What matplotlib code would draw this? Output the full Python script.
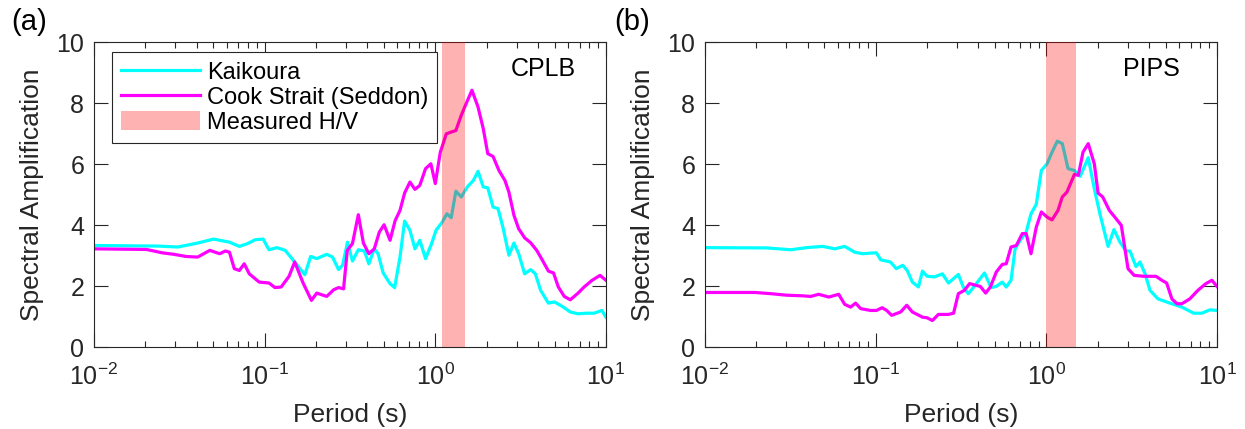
import matplotlib
matplotlib.use("Agg")
import matplotlib.pyplot as plt
from matplotlib.lines import Line2D
from matplotlib.patches import Patch

plt.rcParams["font.family"] = ["Liberation Sans", "DejaVu Sans"]
plt.rcParams["mathtext.default"] = "regular"

# --- CPLB ---------------------------------------------------------------
a_kai_T = [0.0100, 0.0238, 0.0310, 0.0405, 0.0502, 0.0622, 0.0711, 0.0792, 0.0881, 0.0980,
           0.106, 0.118, 0.132, 0.150, 0.172, 0.186, 0.202, 0.231, 0.250, 0.271,
           0.286, 0.306, 0.327, 0.354, 0.384, 0.408, 0.439, 0.462, 0.495, 0.543,
           0.578, 0.621, 0.661, 0.710, 0.760, 0.811, 0.877, 0.951, 1.01, 1.09,
           1.17, 1.24, 1.32, 1.42, 1.54, 1.67, 1.78, 1.91, 2.03, 2.18,
           2.33, 2.49, 2.70, 2.89, 3.08, 3.34, 3.62, 3.86, 4.14, 4.60,
           4.99, 5.56, 6.18, 6.87, 7.66, 8.51, 9.48, 10.0]
a_kai_A = [3.33, 3.31, 3.28, 3.41, 3.54, 3.44, 3.30, 3.39, 3.52, 3.54,
           3.19, 3.26, 3.17, 2.79, 2.37, 2.97, 2.90, 3.04, 2.95, 2.54,
           2.68, 3.44, 2.82, 3.19, 3.15, 2.73, 3.22, 3.06, 2.43, 2.08,
           1.95, 2.95, 4.13, 3.83, 3.22, 3.50, 2.90, 3.39, 3.83, 4.07,
           4.37, 4.24, 5.11, 4.92, 5.25, 5.46, 5.76, 5.25, 5.22, 4.59,
           4.54, 3.93, 3.01, 3.41, 3.06, 2.40, 2.54, 2.40, 1.86, 1.44,
           1.48, 1.33, 1.15, 1.09, 1.11, 1.11, 1.20, 0.98]

a_cook_T = [0.0100, 0.0203, 0.0251, 0.0294, 0.0346, 0.0405, 0.0477, 0.0545, 0.0590, 0.0622,
            0.0664, 0.0711, 0.0759, 0.0813, 0.0929, 0.106, 0.115, 0.125, 0.139, 0.150,
            0.168, 0.188, 0.202, 0.231, 0.254, 0.271, 0.290, 0.305, 0.327, 0.354,
            0.379, 0.408, 0.439, 0.470, 0.501, 0.543, 0.582, 0.621, 0.661, 0.710,
            0.760, 0.811, 0.877, 0.942, 1.00, 1.07, 1.16, 1.24, 1.32, 1.42,
            1.54, 1.64, 1.78, 1.91, 2.03, 2.18, 2.36, 2.56, 2.70, 2.89,
            3.08, 3.34, 3.62, 3.93, 4.25, 4.60, 4.93, 5.26, 5.70, 6.18,
            6.87, 7.45, 8.30, 9.23, 10.0]
a_cook_A = [3.22, 3.20, 3.09, 3.04, 2.97, 2.95, 3.17, 3.06, 3.15, 3.11,
            2.57, 2.51, 2.73, 2.40, 2.13, 2.10, 1.95, 1.97, 2.32, 2.79,
            2.10, 1.53, 1.77, 1.66, 1.88, 1.95, 1.91, 3.17, 3.39, 4.34,
            3.41, 3.06, 3.22, 3.77, 4.01, 3.50, 4.15, 4.48, 5.05, 5.41,
            5.17, 5.30, 5.85, 6.01, 5.36, 6.39, 6.99, 7.05, 7.10, 7.60,
            8.07, 8.42, 7.87, 7.16, 6.34, 6.25, 5.79, 5.46, 5.08, 4.32,
            3.88, 3.58, 3.42, 3.17, 2.84, 2.49, 2.43, 1.97, 1.66, 1.55,
            1.77, 1.97, 2.19, 2.35, 2.19]

# --- PIPS ---------------------------------------------------------------
b_kai_T = [0.0100, 0.0230, 0.0318, 0.0394, 0.0490, 0.0575, 0.0658, 0.0753, 0.0839, 0.0933,
           0.101, 0.107, 0.122, 0.132, 0.144, 0.153, 0.164, 0.178, 0.188, 0.200,
           0.221, 0.246, 0.267, 0.305, 0.326, 0.349, 0.378, 0.434, 0.475, 0.509,
           0.552, 0.582, 0.621, 0.656, 0.703, 0.762, 0.813, 0.873, 0.935, 1.01,
           1.08, 1.16, 1.24, 1.34, 1.46, 1.58, 1.76, 1.91, 2.07, 2.30,
           2.49, 2.70, 2.93, 3.09, 3.35, 3.54, 3.79, 4.05, 4.51, 5.30,
           6.22, 7.31, 8.15, 9.08, 10.0]
b_kai_A = [3.26, 3.25, 3.19, 3.26, 3.30, 3.22, 3.30, 3.11, 3.06, 3.08,
           3.09, 2.86, 2.79, 2.57, 2.68, 2.51, 2.13, 1.97, 2.49, 2.32,
           2.30, 2.40, 2.10, 2.38, 1.97, 1.75, 1.99, 2.43, 1.95, 1.99,
           2.13, 1.97, 2.19, 3.22, 3.50, 3.77, 4.37, 4.68, 5.79, 6.01,
           6.39, 6.75, 6.67, 5.85, 5.79, 5.60, 6.21, 5.19, 4.32, 3.30,
           3.85, 3.44, 3.15, 3.15, 2.64, 2.79, 2.40, 1.86, 1.58, 1.44,
           1.31, 1.11, 1.11, 1.22, 1.20]

b_cook_T = [0.0100, 0.0196, 0.0243, 0.0301, 0.0374, 0.0417, 0.0463, 0.0531, 0.0607, 0.0658,
            0.0713, 0.0762, 0.0817, 0.0933, 0.101, 0.109, 0.116, 0.124, 0.140, 0.152,
            0.164, 0.188, 0.200, 0.215, 0.233, 0.267, 0.286, 0.305, 0.331, 0.355,
            0.389, 0.410, 0.441, 0.470, 0.509, 0.552, 0.582, 0.621, 0.667, 0.723,
            0.762, 0.813, 0.873, 0.935, 1.01, 1.08, 1.17, 1.24, 1.32, 1.46,
            1.54, 1.64, 1.76, 1.91, 2.01, 2.14, 2.34, 2.52, 2.75, 3.01,
            3.27, 3.73, 4.39, 4.75, 5.07, 5.44, 5.83, 6.22, 6.93, 7.73,
            8.61, 9.33, 10.0]
b_cook_A = [1.79, 1.79, 1.75, 1.70, 1.68, 1.66, 1.73, 1.64, 1.73, 1.40,
            1.31, 1.44, 1.26, 1.20, 1.20, 1.29, 1.20, 1.04, 1.15, 1.37,
            1.15, 0.98, 0.96, 0.87, 1.07, 1.07, 1.11, 1.75, 1.86, 2.08,
            2.02, 1.99, 1.77, 1.97, 2.46, 2.71, 2.73, 3.28, 3.33, 3.72,
            3.72, 3.06, 3.93, 4.43, 4.26, 4.17, 4.48, 4.92, 5.08, 5.66,
            5.63, 6.39, 6.67, 6.01, 5.05, 4.92, 4.48, 4.26, 3.99, 2.57,
            2.35, 2.32, 2.32, 2.19, 2.10, 1.58, 1.42, 1.42, 1.58, 1.86,
            2.08, 2.19, 1.99]

# measured H/V period ranges
hv_a = (1.1, 1.5)
hv_b = (1.0, 1.5)

KAI = "#00ffff"
COOK = "#ff00ff"
INK = "#262626"


def style(ax, site, site_x):
    ax.set_xscale("log")
    ax.set_xlim(0.01, 10)
    ax.set_ylim(0, 10)
    ax.set_yticks([0, 2, 4, 6, 8, 10])
    ax.tick_params(which="both", direction="in", top=True, right=True,
                   colors=INK, labelsize=18)
    ax.tick_params(which="major", length=10, width=0.8)
    ax.tick_params(which="minor", length=4.5, width=0.8)
    ax.tick_params(axis="y", pad=7)
    ax.tick_params(axis="x", pad=12)
    for s in ax.spines.values():
        s.set_color(INK)
        s.set_linewidth(0.8)
    ax.set_xlabel("Period (s)", fontsize=19, color=INK)
    ax.set_ylabel("Spectral Amplification", fontsize=19, color=INK)
    ax.xaxis.set_label_coords(0.5, -0.183)
    ax.yaxis.set_label_coords(-0.098, 0.5)
    ax.text(site_x, 0.913, site, transform=ax.transAxes, fontsize=18,
            ha="center", va="center", color="black")


fig = plt.figure(figsize=(12.45, 4.29), dpi=100)
ax_a = fig.add_axes([0.0755, 0.191, 0.4112, 0.711])
ax_b = fig.add_axes([0.5663, 0.191, 0.4112, 0.711])

for ax, kt, ka, ct, ca, hv, site, sx in [
        (ax_a, a_kai_T, a_kai_A, a_cook_T, a_cook_A, hv_a, "CPLB", 0.877),
        (ax_b, b_kai_T, b_kai_A, b_cook_T, b_cook_A, hv_b, "PIPS", 0.871)]:
    ax.plot(kt, ka, color=KAI, lw=2.3, zorder=2)
    ax.plot(ct, ca, color=COOK, lw=2.3, zorder=2)
    # band sits over the curves, tinting them
    ax.axvspan(hv[0], hv[1], color="red", alpha=0.3, lw=0, zorder=3)
    style(ax, site, sx)

handles = [Line2D([], [], color=KAI, lw=2.3),
           Line2D([], [], color=COOK, lw=2.3),
           Patch(facecolor="red", alpha=0.3, edgecolor="none")]
leg = ax_a.legend(handles, ["Kaikoura", "Cook Strait (Seddon)", "Measured H/V"],
                  loc="upper left", bbox_to_anchor=(0.035, 0.967),
                  borderaxespad=0, fontsize=17, handlelength=3.35,
                  handleheight=0.85, handletextpad=0.3, labelspacing=0.1,
                  borderpad=0.38, fancybox=False, framealpha=1)
leg.get_frame().set_edgecolor(INK)
leg.get_frame().set_linewidth(0.8)

fig.text(0.0233, 0.949, "(a)", fontsize=21, ha="center", va="center")
fig.text(0.508, 0.949, "(b)", fontsize=21, ha="center", va="center")

fig.savefig("out.png", dpi=100)
